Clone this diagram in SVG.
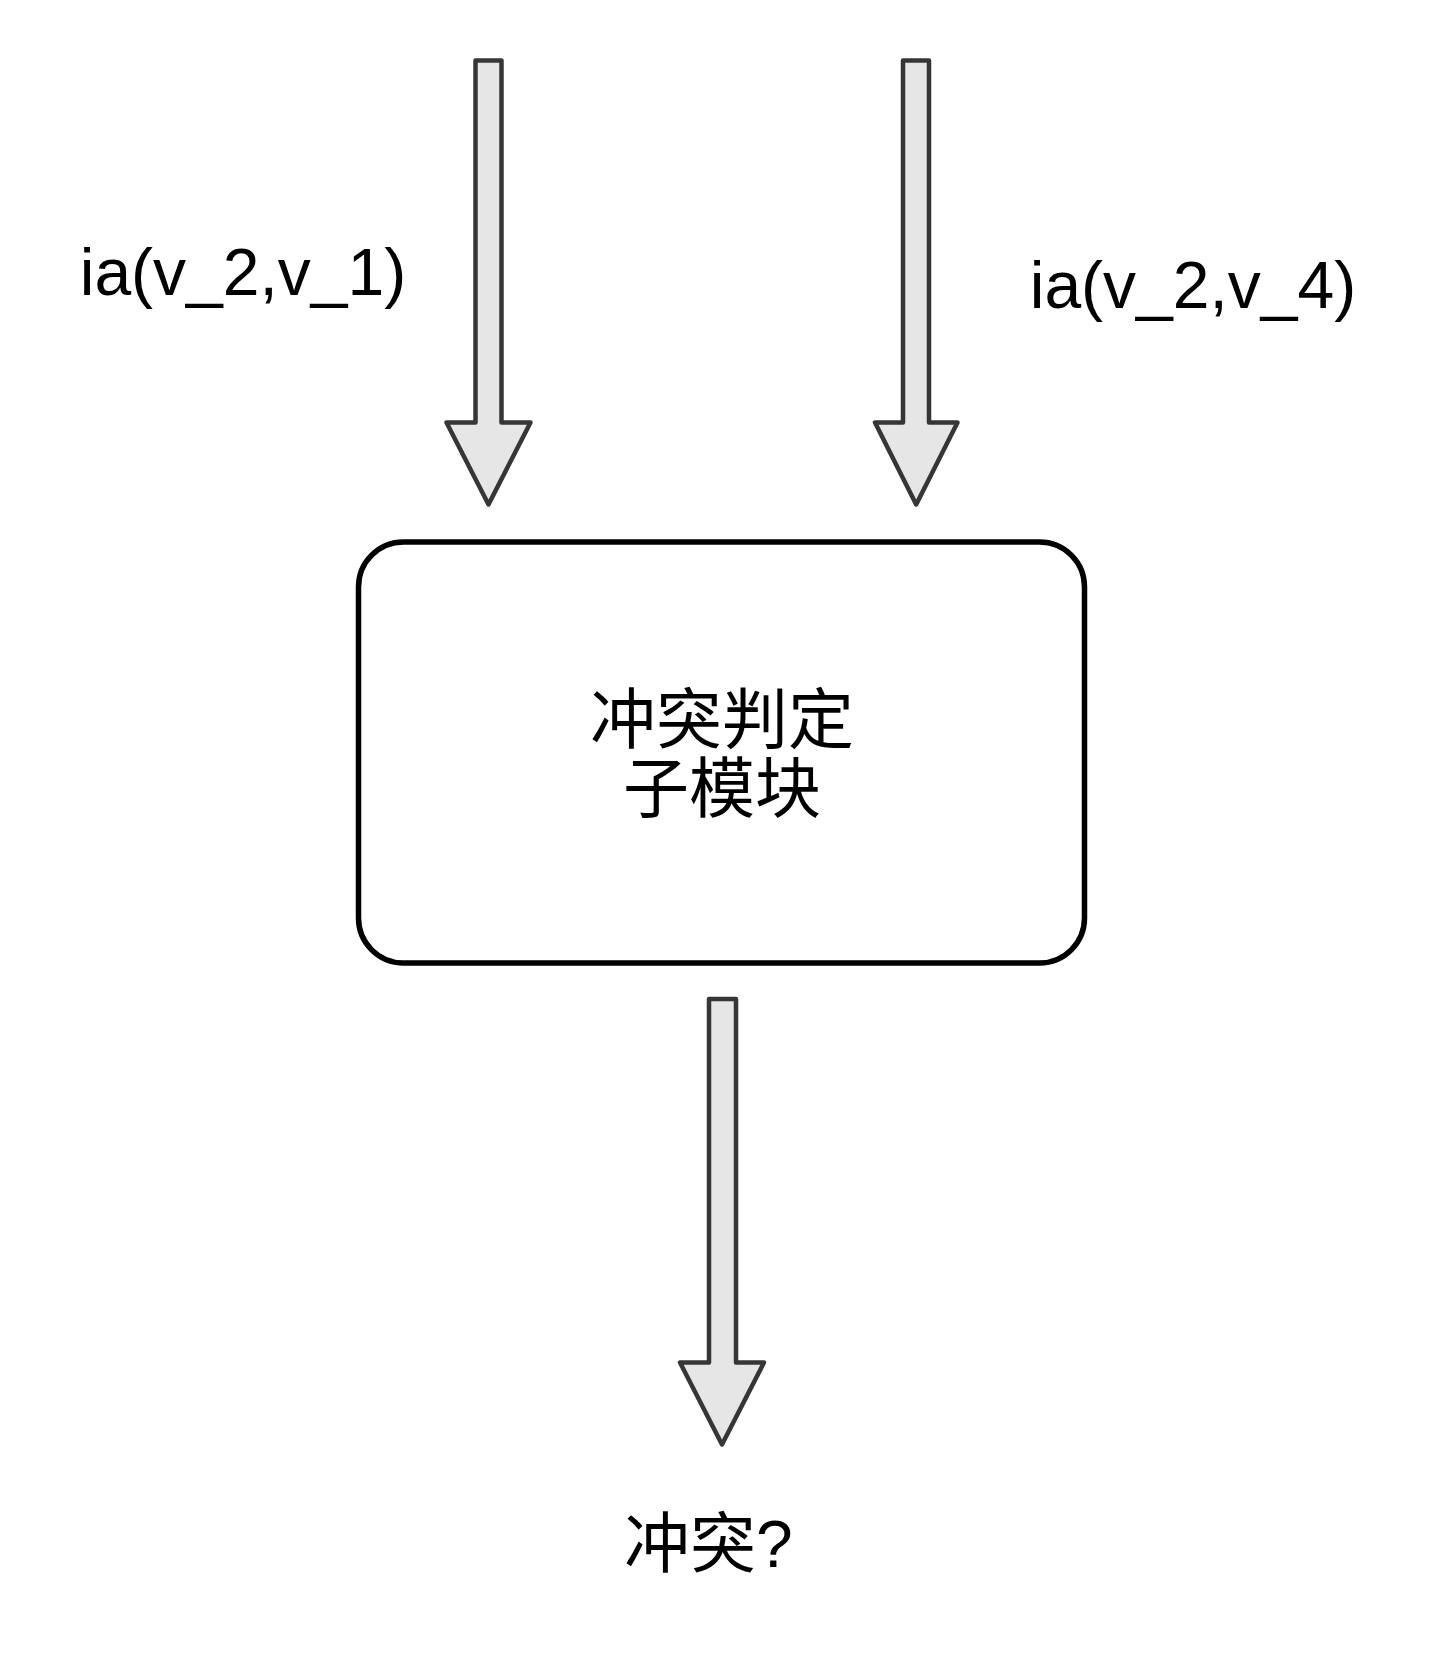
<svg xmlns="http://www.w3.org/2000/svg" width="1438" height="1661" viewBox="0 0 1438 1661">
<style>
.arrow{fill:#e6e6e6;stroke:#363636;stroke-width:4.5;stroke-linejoin:round}
.box{fill:#ffffff;stroke:#000000;stroke-width:5.5}
.lat{font-family:"Liberation Sans",Arial,sans-serif;font-size:66px;fill:#000}
.cjk{font-family:"Liberation Sans","Noto Sans CJK SC",sans-serif;font-size:66px;fill:#000}
</style>
<rect width="1438" height="1661" fill="#ffffff"/>
<g id="connectors">
<path class="arrow" d="M475.5,60.5 H501.5 V422.5 H530.5 L488.5,504.5 L446.5,422.5 H475.5 Z"/>
<path class="arrow" d="M903,60.5 H929 V422.5 H957.5 L916.2,504.5 L875,422.5 H903 Z"/>
<path class="arrow" d="M709,999 H736 V1362.5 H764 L722,1444.5 L680,1362.5 H709 Z"/>
</g>
<g id="node-module">
<rect class="box" x="358.5" y="542" width="726" height="421" rx="45" ry="45"/>
<text class="cjk" text-anchor="middle" x="722" y="743">冲突判定</text>
<text class="cjk" text-anchor="middle" x="722" y="811.5">子模块</text>
</g>
<g id="label-in1">
<text class="lat" text-anchor="middle" x="243" y="295">ia(v_2,v_1)</text>
</g>
<g id="label-in2">
<text class="lat" text-anchor="middle" x="1193" y="308">ia(v_2,v_4)</text>
</g>
<g id="label-out">
<text class="cjk" x="624" y="1567">冲突?</text>
</g>
</svg>
